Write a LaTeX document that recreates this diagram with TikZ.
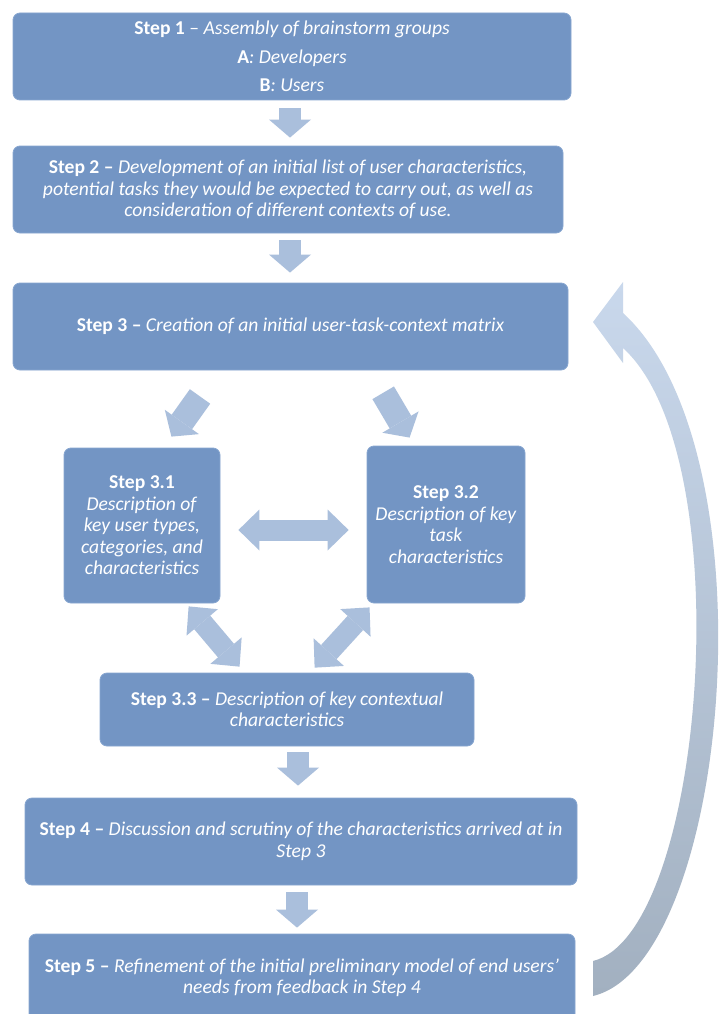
\documentclass[tikz,border=0pt]{standalone}
\usepackage{fontspec}
\setmainfont{Carlito}
\usetikzlibrary{arrows.meta,calc}
\definecolor{boxblue}{RGB}{115,149,196}
\definecolor{boxedge}{RGB}{135,166,208}
\definecolor{arrowblue}{RGB}{170,191,220}
\definecolor{curvetop}{RGB}{201,216,236}
\definecolor{curvebot}{RGB}{162,176,192}
\begin{document}
\begin{tikzpicture}[x=1pt,y=-1pt,
  stepbox/.style={fill=boxblue, draw=boxedge, line width=0.8pt, rounded corners=7pt,
    text=white, align=center, inner sep=0pt, font=\fontsize{19.6}{21.5}\selectfont},
  flowarrow/.style={draw=arrowblue, line width=22pt,
    -{Triangle[length=18pt,width=42pt,line width=0pt]}},
  bothways/.style={draw=arrowblue, line width=21pt,
    {Triangle[length=21pt,width=41pt,line width=0pt]}-{Triangle[length=21pt,width=41pt,line width=0pt]}}]
  \clip (0,0) rectangle (723,1014);
  \fill[white] (0,0) rectangle (723,1014);
  % step boxes
  \node[stepbox, minimum width=558pt, minimum height=87pt] (s1) at (292,56.5)
    {\textbf{Step 1} – \textit{Assembly of brainstorm groups}\\[7pt]
     \textbf{A}\textit{: Developers}\\[7pt] \textbf{B}\textit{: Users}};
  \node[stepbox, minimum width=550pt, minimum height=87pt] (s2) at (288,189.5)
    {\textbf{Step 2 –} \textit{Development of an initial list of user characteristics,}\\
     \textit{potential tasks they would be expected to carry out, as well as}\\
     \textit{consideration of different contexts of use.}};
  \node[stepbox, minimum width=555pt, minimum height=87pt] (s3) at (290.5,326.5)
    {\textbf{Step 3 –} \textit{Creation of an initial user-task-context matrix}};
  \node[stepbox, minimum width=156pt, minimum height=155pt] (s31) at (142,525.5)
    {\textbf{Step 3.1}\\ \textit{Description of}\\ \textit{key user types,}\\
     \textit{categories, and}\\ \textit{characteristics}};
  \node[stepbox, minimum width=158pt, minimum height=157pt] (s32) at (446,524.5)
    {\textbf{Step 3.2}\\ \textit{Description of key}\\ \textit{task}\\ \textit{characteristics}};
  \node[stepbox, minimum width=374pt, minimum height=73pt] (s33) at (287,709.5)
    {\textbf{Step 3.3 –} \textit{Description of key contextual}\\ \textit{characteristics}};
  \node[stepbox, minimum width=552pt, minimum height=87pt] (s4) at (301,841.5)
    {\textbf{Step 4 –} \textit{Discussion and scrutiny of the characteristics arrived at in}\\
     \textit{Step 3}};
  \node[stepbox, minimum width=546pt, minimum height=88pt] (s5) at (302,978)
    {\textbf{Step 5 –} \textit{Refinement of the initial preliminary model of end users'}\\
     \textit{needs from feedback in Step 4}};
  % block arrows
  \draw[flowarrow, shorten <=8pt, shorten >=8pt] ([xshift=-2pt]s1.south) -- ([xshift=2pt]s2.north);
  \draw[flowarrow, shorten <=7pt, shorten >=10pt] ([xshift=2pt]s2.south) -- ([xshift=-0.5pt]s3.north);
  \draw[flowarrow, line width=25pt, shorten <=32pt, shorten >=13.5pt] ([xshift=206pt]s3.south west) -- ([xshift=100pt]s31.north west);
  \draw[flowarrow, line width=25pt, shorten <=26pt, shorten >=9.3pt] ([xshift=357.4pt]s3.south west) -- ([xshift=47.7pt]s32.north west);
  \draw[bothways, shorten <=18pt, shorten >=18pt] ([yshift=-4.5pt]s31.east) -- ([yshift=-5.5pt]s32.west);
  \draw[bothways, shorten <=3.9pt, shorten >=7.8pt] ([xshift=122.5pt]s31.south west) -- ([xshift=145pt]s33.north west);
  \draw[bothways, shorten <=5.4pt, shorten >=6.7pt] ([xshift=6.6pt]s32.south west) -- ([xshift=210.5pt]s33.north west);
  \draw[flowarrow, shorten <=6pt, shorten >=12pt] ([xshift=11pt]s33.south) -- ([xshift=-3pt]s4.north);
  \draw[flowarrow, shorten <=7pt, shorten >=6pt] ([xshift=-4pt]s4.south) -- ([xshift=-5pt]s5.north);
  % feedback arrow from step 5 back to step 3
  \shade[top color=curvetop, bottom color=curvebot]
    (593,996) .. controls (730,963) and (775,452) .. (623,313)
    -- (623,282) -- (593,322) -- (623,363) -- (623,348)
    .. controls (742,456) and (705,934) .. (593,961) -- cycle;
\end{tikzpicture}
\end{document}
